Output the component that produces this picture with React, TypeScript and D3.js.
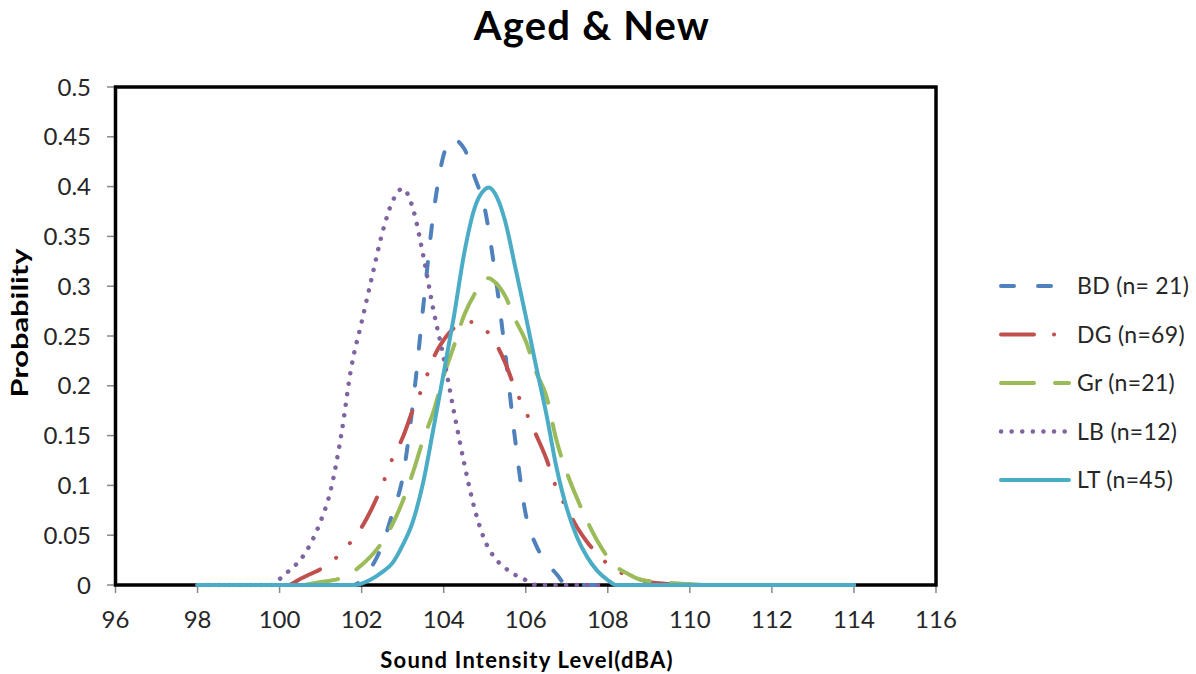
import React from "react";
import * as d3 from "d3";

// ---- data ----
const xTicks = [96, 98, 100, 102, 104, 106, 108, 110, 112, 114, 116];
const yTicks = [0, 0.05, 0.1, 0.15, 0.2, 0.25, 0.3, 0.35, 0.4, 0.45, 0.5];
const yTickLabels = ["0", "0.05", "0.1", "0.15", "0.2", "0.25", "0.3", "0.35", "0.4", "0.45", "0.5"];

const seriesNames = ["BD (n= 21)", "DG (n=69)", "Gr (n=21)", "LB (n=12)", "LT (n=45)"];

const bdData: [number, number][] = [
  [98, 0], [101.8, 0], [102.1, 0.01], [102.5, 0.04], [102.75, 0.072], [103, 0.108], [103.25, 0.182],
  [103.5, 0.279], [103.75, 0.373], [104, 0.432], [104.2, 0.448], [104.5, 0.438], [104.75, 0.41],
  [105, 0.378], [105.25, 0.314], [105.5, 0.233], [105.75, 0.143], [106, 0.071], [106.25, 0.04],
  [106.5, 0.023], [106.75, 0.011], [107, 0], [114, 0],
];
const dgData: [number, number][] = [
  [98, 0], [100.2, 0], [100.5, 0.006], [100.75, 0.011], [101, 0.016], [101.25, 0.023], [101.5, 0.032],
  [101.75, 0.044], [102, 0.058], [102.25, 0.077], [102.5, 0.1], [102.75, 0.127], [103, 0.148],
  [103.25, 0.176], [103.5, 0.2], [103.75, 0.228], [104, 0.246], [104.25, 0.258], [104.5, 0.264],
  [104.75, 0.264], [105, 0.257], [105.25, 0.244], [105.5, 0.223], [105.75, 0.196], [106, 0.174],
  [106.25, 0.151], [106.5, 0.127], [106.75, 0.097], [107, 0.077], [107.25, 0.058], [107.5, 0.043],
  [107.75, 0.031], [108, 0.021], [108.25, 0.014], [108.5, 0.009], [108.75, 0.006], [109, 0.003],
  [109.5, 0.001], [110, 0], [114, 0],
];
const grData: [number, number][] = [
  [98, 0], [100.5, 0], [101, 0.003], [101.5, 0.007], [102, 0.02], [102.5, 0.043], [102.75, 0.061],
  [103, 0.084], [103.25, 0.113], [103.5, 0.146], [103.75, 0.174], [104, 0.21], [104.25, 0.24],
  [104.5, 0.271], [104.75, 0.292], [105, 0.306], [105.1, 0.308], [105.25, 0.304], [105.5, 0.29],
  [105.75, 0.266], [106, 0.245], [106.25, 0.214], [106.5, 0.19], [106.75, 0.145], [107, 0.113],
  [107.25, 0.087], [107.5, 0.064], [107.75, 0.044], [108, 0.028], [108.25, 0.017], [108.5, 0.011],
  [108.75, 0.006], [109, 0.004], [109.5, 0.002], [110, 0.001], [110.4, 0], [114, 0],
];
const lbData: [number, number][] = [
  [98, 0], [99.8, 0], [100, 0.006], [100.25, 0.015], [100.5, 0.025], [100.75, 0.041], [101, 0.064],
  [101.25, 0.096], [101.5, 0.15], [101.75, 0.219], [102, 0.264], [102.25, 0.309], [102.5, 0.353],
  [102.75, 0.385], [103, 0.398], [103.25, 0.378], [103.5, 0.331], [103.75, 0.276], [104, 0.228],
  [104.25, 0.174], [104.5, 0.122], [104.75, 0.077], [105, 0.045], [105.25, 0.027], [105.5, 0.017],
  [105.75, 0.01], [106, 0.005], [106.25, 0], [108, 0],
];
const ltData: [number, number][] = [
  [98, 0], [101.85, 0], [102.2, 0.005], [102.5, 0.013], [102.75, 0.022], [103, 0.04], [103.25, 0.064],
  [103.5, 0.103], [103.75, 0.157], [104, 0.213], [104.25, 0.27], [104.5, 0.333], [104.75, 0.378],
  [105, 0.397], [105.1, 0.399], [105.25, 0.393], [105.5, 0.365], [105.75, 0.318], [106, 0.27],
  [106.25, 0.22], [106.5, 0.172], [106.75, 0.118], [107, 0.077], [107.25, 0.048], [107.5, 0.028],
  [107.75, 0.014], [108, 0.005], [108.2, 0], [114, 0],
];

const seriesData = [bdData, dgData, grData, lbData, ltData];
const seriesColors = ["#4F81BD", "#C0504D", "#9BBB59", "#8064A2", "#4BACC6"];
const seriesDash = ["13 24", "33 20 0.1 20 0.1 20", "33 21", "0.1 10.5", ""];
const seriesWidth = [4, 4, 4, 4.5, 4];

const FONT = "Lato, 'Open Sans', sans-serif";

export default function App() {
  const W = 1196, H = 674;
  const x = d3.scaleLinear().domain([96, 116]).range([115.5, 936]);
  const y = d3.scaleLinear().domain([0, 0.5]).range([585, 87]);
  const line = d3.line<[number, number]>()
    .x(d => x(d[0]))
    .y(d => y(d[1]))
    .curve(d3.curveMonotoneX);

  return (
    <svg width={W} height={H} style={{ position: "absolute", left: 0, top: 0, background: "#fff" }}
      fontFamily={FONT}>
      <rect x={0} y={0} width={W} height={H} fill="#fff" />
      <text x={592} y={40} textAnchor="middle" fontSize={40} fontWeight="bold" letterSpacing={1.2} fill="#000">Aged &amp; New</text>

      {/* y ticks */}
      {yTicks.map((t, i) => (
        <g key={"y" + i}>
          <line x1={107} x2={115.5} y1={y(t)} y2={y(t)} stroke="#888" strokeWidth={1.5} />
          <text x={91} y={y(t)} dy="0.36em" textAnchor="end" fontSize={24} fill="#262626">{yTickLabels[i]}</text>
        </g>
      ))}
      {/* x ticks */}
      {xTicks.map((t, i) => (
        <g key={"x" + i}>
          <line x1={x(t)} x2={x(t)} y1={585} y2={593} stroke="#888" strokeWidth={1.5} />
          <text x={x(t)} y={628} textAnchor="middle" fontSize={24} fill="#262626">{t}</text>
        </g>
      ))}

      {/* plot frame */}
      <rect x={x(96)} y={y(0.5)} width={x(116) - x(96)} height={y(0) - y(0.5)} fill="none" stroke="#000" strokeWidth={3.5} />

      {/* series */}
      {seriesData.map((d, i) => (
        <path key={"s" + i} d={line(d) || ""} fill="none" stroke={seriesColors[i]} strokeWidth={seriesWidth[i]}
          strokeDasharray={seriesDash[i] || undefined} strokeLinecap="round" strokeLinejoin="round" />
      ))}

      {/* axis titles */}
      <text x={527} y={668} textAnchor="middle" fontSize={22} fontWeight="bold" letterSpacing={1.2} fill="#000">Sound Intensity Level(dBA)</text>
      <text transform={`translate(28,${323}) rotate(-90) scale(1.4,1)`} textAnchor="middle" fontSize={22} fontWeight="bold" fill="#000">Probability</text>

      {/* legend */}
      {seriesNames.map((n, i) => {
        const cy = 286 + i * 48.5;
        return (
          <g key={"l" + i}>
            <line x1={1001} x2={1069} y1={cy} y2={cy} stroke={seriesColors[i]} strokeWidth={seriesWidth[i]}
              strokeDasharray={seriesDash[i] || undefined} strokeLinecap="round" />
            <text x={1077} y={cy} dy="0.36em" fontSize={23} letterSpacing={0.3} fill="#262626">{n}</text>
          </g>
        );
      })}
    </svg>
  );
}
